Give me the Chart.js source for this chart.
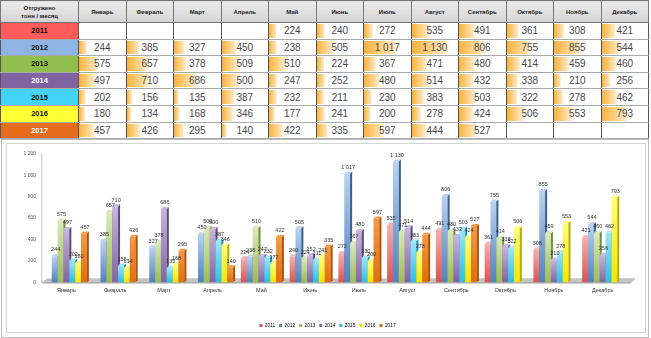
<!DOCTYPE html>
<html>
<head>
<meta charset="utf-8">
<script src="https://cdn.jsdelivr.net/npm/chart.js@4.4.1/dist/chart.umd.min.js"></script>
<style>
  body { margin: 0; width: 651px; height: 338px; overflow: hidden; background: #fff;
         font-family: "Liberation Sans", Arial, Helvetica, sans-serif; position: relative; }
  #tbl { position: absolute; left: 0; top: 0; border-collapse: collapse; table-layout: fixed; width: 648px; }
  #tbl th, #tbl td { padding: 0; text-align: center; overflow: hidden; white-space: nowrap; }
  #tbl th { height: 21px; font-size: 6px; font-weight: bold; color: #222;
            background: linear-gradient(#ececec, #d3d3d3); border: 1px solid #777; }
  #tbl td { height: 15.6px; font-size: 10px; color: #4a4a4a; border-top: 1px solid #aaa; border-bottom: 1px solid #aaa;
            border-left: 1px solid #555; border-right: 1px solid #555; background-color: #fff; background-repeat: no-repeat; }
  #tbl td.yr { font-size: 7.5px; font-weight: bold; color: #111; }
  #outer { position: absolute; left: 1px; top: 139px; width: 646px; height: 197px; border: 1px solid #bdbdbd; }
  #inner { position: absolute; left: 6px; top: 143px; width: 638px; height: 188px; border: 1px solid #d4d4d4; pointer-events: none; }
  #wrap { position: absolute; left: 6px; top: 143px; width: 639px; height: 200px; }
</style>
</head>
<body>
<table id="tbl"></table>
<div id="outer"></div>
<div id="wrap"><canvas id="chart" width="639" height="200"></canvas></div>
<div id="inner"></div>
<script>
// данные: тонн / месяц
const months = ["Январь", "Февраль", "Март", "Апрель", "Май", "Июнь", "Июль", "Август", "Сентябрь", "Октябрь", "Ноябрь", "Декабрь"];
const years = ["2011", "2012", "2013", "2014", "2015", "2016", "2017"];
const v2011 = [null, null, null, null, 224, 240, 272, 535, 491, 361, 308, 421];
const v2012 = [244, 385, 327, 450, 238, 505, 1017, 1130, 806, 755, 855, 544];
const v2013 = [575, 657, 378, 509, 510, 224, 367, 471, 480, 414, 459, 460];
const v2014 = [497, 710, 686, 500, 247, 252, 480, 514, 432, 338, 210, 256];
const v2015 = [202, 156, 135, 387, 232, 211, 230, 383, 503, 322, 278, 462];
const v2016 = [180, 134, 168, 346, 177, 241, 200, 278, 424, 506, 553, 793];
const v2017 = [457, 426, 295, 140, 422, 335, 597, 444, 527, null, null, null];
const yTicks = [0, 200, 400, 600, 800, 1000, 1200];

const series = [v2011, v2012, v2013, v2014, v2015, v2016, v2017];
// цвета: ячейка года, столбик (светлый верх / основной)
const yearBg = ["#ff5b5b", "#8db4e2", "#8fbe4e", "#8064a2", "#44d3f8", "#ffff33", "#e46c1c"];
const yearFg = ["#111", "#111", "#111", "#fff", "#111", "#111", "#fff"];
const barLight = ["#f6b0ae", "#b9d2f3", "#d9eab8", "#c7b6de", "#9ce6f8", "#ffff80", "#f29a4a"];
const barMain = ["#d9534f", "#4f81bd", "#9bbb59", "#8064a2", "#2bbfe4", "#f2e600", "#e46c0a"];

function fmt(v) {
    return String(v).replace(/\B(?=(\d{3})+(?!\d))/g, " ");
}

// Таблица
const all = series.flat().filter((v) => v != null);
const vMin = Math.min(...all), vMax = Math.max(...all);
let html = "<colgroup><col style='width:78px'>" + months.map(() => "<col style='width:47.5px'>").join("") + "</colgroup>";
html += "<tr><th style='line-height:8px;white-space:normal'>Отгружено<br>тонн / месяц</th>" +
    months.map((m) => `<th>${m}</th>`).join("") + "</tr>";
years.forEach((y, i) => {
    html += `<tr><td class="yr" style="background:${yearBg[i]};color:${yearFg[i]}">${y}</td>`;
    series[i].forEach((v) => {
        if (v == null) { html += "<td></td>"; return; }
        const w = 10 + ((v - vMin) / (vMax - vMin)) * 72;
        html += `<td style="background-image:linear-gradient(to right,#fab23a,#fde6bd 85%,#fff);background-size:${w}% 88%;background-position:0 50%">${fmt(v)}</td>`;
    });
    html += "</tr>";
});
document.getElementById("tbl").innerHTML = html;

// 3D столбики
const D = 2;
const bars3d = {
    id: "bars3d",
    afterLayout(chart) {
        // легенда в оригинале чуть правее центра
        chart.legend.left += 11;
        chart.legend.right += 11;
    },
    beforeDatasetsDraw(chart) {
        const { ctx, chartArea } = chart;
        const y0 = chart.scales.y.getPixelForValue(0);
        ctx.save();
        ctx.fillStyle = "#c4c4c4";
        ctx.beginPath();
        ctx.moveTo(chartArea.left, y0 + 1);
        ctx.lineTo(chartArea.right + 4, y0 + 1);
        ctx.lineTo(chartArea.right + 9, y0 - 4);
        ctx.lineTo(chartArea.left + 5, y0 - 4);
        ctx.closePath();
        ctx.fill();
        ctx.fillStyle = "#a9a9a9";
        ctx.fillRect(chartArea.left, y0, chartArea.right + 4 - chartArea.left, 1.2);
        ctx.restore();
    },
    afterDatasetsDraw(chart) {
        const { ctx } = chart;
        ctx.save();
        for (let c = 0; c < months.length; c++) {
            chart.data.datasets.forEach((ds, i) => {
                const v = ds.data[c];
                if (v == null) return;
                const bar = chart.getDatasetMeta(i).data[c];
                const { x, y, base, width } = bar.getProps(["x", "y", "base", "width"], true);
                const l = x - width / 2, r = x + width / 2;
                const g = ctx.createLinearGradient(0, y, 0, base);
                g.addColorStop(0, barLight[i]);
                g.addColorStop(1, barMain[i]);
                ctx.fillStyle = g;
                ctx.fillRect(l, y, width, base - y);
                // бок
                ctx.fillStyle = barMain[i];
                ctx.beginPath();
                ctx.moveTo(r, y); ctx.lineTo(r + D, y - D); ctx.lineTo(r + D, base - D); ctx.lineTo(r, base);
                ctx.closePath(); ctx.fill();
                ctx.fillStyle = "rgba(0,0,0,0.25)";
                ctx.fill();
                // верх
                ctx.fillStyle = barLight[i];
                ctx.beginPath();
                ctx.moveTo(l, y); ctx.lineTo(l + D, y - D); ctx.lineTo(r + D, y - D); ctx.lineTo(r, y);
                ctx.closePath(); ctx.fill();
            });
        }
        // подписи
        ctx.fillStyle = "#333";
        ctx.font = "5.5px 'Liberation Sans', Arial, sans-serif";
        ctx.textAlign = "center";
        ctx.textBaseline = "bottom";
        chart.data.datasets.forEach((ds, i) => {
            chart.getDatasetMeta(i).data.forEach((bar, c) => {
                const v = ds.data[c];
                if (v == null) return;
                ctx.fillText(fmt(v), bar.x + D / 2, bar.y - D - 1.5);
            });
        });
        ctx.restore();
    },
};

new Chart(document.getElementById("chart"), {
    type: "bar",
    data: {
        labels: months,
        datasets: years.map((y, i) => ({
            label: y,
            data: series[i],
            backgroundColor: "rgba(0,0,0,0)",
            borderWidth: 0,
        })),
    },
    options: {
        responsive: false,
        animation: false,
        devicePixelRatio: 1,
        datasets: { bar: { categoryPercentage: 0.84, barPercentage: 1 } },
        layout: { padding: { left: 0, right: 18, top: 11, bottom: 5 } },
        scales: {
            x: {
                grid: { display: false, drawTicks: false },
                border: { display: false },
                ticks: { padding: 5, color: "#333", font: { size: 5.5, family: "'Liberation Sans', Arial" }, maxRotation: 0, autoSkip: false },
                afterFit: (s) => { s.height = 37; },
            },
            y: {
                min: 0, max: 1200,
                afterBuildTicks: (s) => { s.ticks = yTicks.map((v) => ({ value: v })); },
                grid: { display: false, drawTicks: false },
                border: { display: true, color: "#d9d9d9", width: 1.5 },
                ticks: { padding: 6, color: "#555", font: { size: 5, family: "'Liberation Sans', Arial" }, callback: (v) => fmt(v) },
                afterFit: (s) => { s.width = 36; },
            },
        },
        plugins: {
            tooltip: { enabled: false },
            legend: {
                position: "bottom",
                labels: {
                    boxWidth: 3, boxHeight: 3, padding: 4,
                    color: "#444",
                    font: { size: 4.8, family: "'Liberation Sans', Arial" },
                    generateLabels: (chart) => chart.data.datasets.map((ds, i) => ({
                        text: ds.label, fillStyle: barMain[i], strokeStyle: barMain[i], lineWidth: 0, datasetIndex: i,
                    })),
                },
            },
        },
    },
    plugins: [bars3d],
});
</script>
</body>
</html>
